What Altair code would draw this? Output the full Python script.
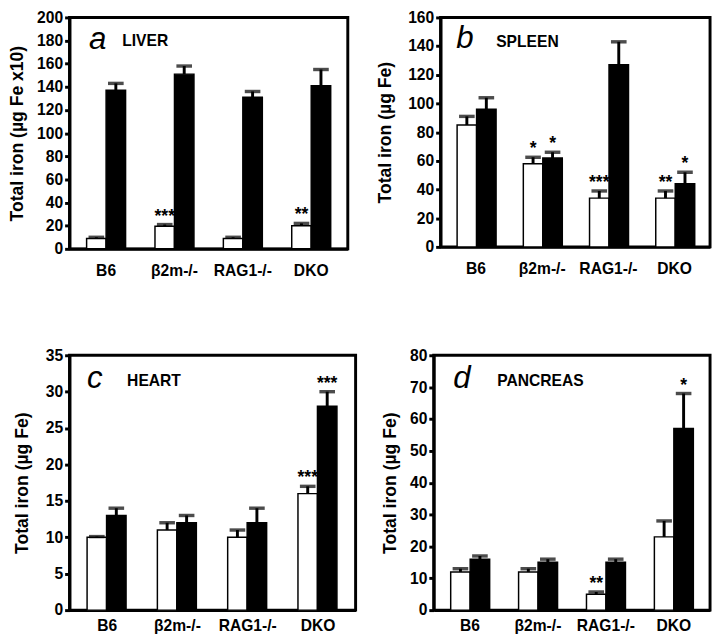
import altair as alt
import pandas as pd

groups = ["B6", "β2m-/-", "RAG1-/-", "DKO"]
series = ["w", "b"]

# a LIVER
liver_white = [9, 19.5, 9, 20]
liver_white_err = [1, 1.5, 1, 2]
liver_black = [137, 151, 131, 141]
liver_black_err = [6, 7, 5, 14]
liver_white_sig = ["", "***", "", "**"]
liver_black_sig = ["", "", "", ""]

# b SPLEEN
spleen_white = [85, 58, 34, 34]
spleen_white_err = [6, 4.5, 5, 5]
spleen_black = [96, 62, 127, 44]
spleen_black_err = [8, 4, 16, 8]
spleen_white_sig = ["", "*", "***", "**"]
spleen_black_sig = ["", "*", "", "*"]

# c HEART
heart_white = [10, 11, 10, 16]
heart_white_err = [0.1, 1, 1, 1]
heart_black = [13, 12, 12, 28]
heart_black_err = [1, 1, 2, 2]
heart_white_sig = ["", "", "", "***"]
heart_black_sig = ["", "", "", "***"]

# d PANCREAS
pancreas_white = [12, 12, 5, 23]
pancreas_white_err = [1, 1, 0.7, 5]
pancreas_black = [16, 15, 15, 57]
pancreas_black_err = [1, 1, 1, 11]
pancreas_white_sig = ["", "", "**", ""]
pancreas_black_sig = ["", "", "", "*"]

FONT = "Liberation Sans"


def panel(letter, name, ytitle, ymax, step, white, white_err, black, black_err,
          white_sig, black_sig, w, h, lx, ly, nx, ny, tpad, xlpad):
    rows = []
    for i, g in enumerate(groups):
        rows.append(dict(group=g, s="w", v=white[i], hi=white[i] + white_err[i], sig=white_sig[i]))
        rows.append(dict(group=g, s="b", v=black[i], hi=black[i] + black_err[i], sig=black_sig[i]))
    df = pd.DataFrame(rows)
    x = alt.X("group:N", sort=groups,
              scale=alt.Scale(paddingInner=0.43, paddingOuter=0.25),
              axis=alt.Axis(title=None, labelAngle=0, ticks=False, labelPadding=xlpad))
    xo = alt.XOffset("s:N", sort=series, scale=alt.Scale(paddingInner=0, paddingOuter=0))
    yscale = alt.Scale(domain=[0, ymax], nice=False)
    yaxis = alt.Axis(title=ytitle, values=list(range(0, ymax + 1, step)), titlePadding=tpad)
    base = alt.Chart(df)
    bars = base.mark_bar(stroke="black", strokeWidth=1.5).encode(
        x=x, xOffset=xo,
        y=alt.Y("v:Q", scale=yscale, axis=yaxis),
        color=alt.Color("s:N", scale=alt.Scale(domain=series, range=["white", "black"]), legend=None),
    )
    err = base.mark_rule(strokeWidth=3, color="black").encode(
        x=x, xOffset=xo,
        y=alt.Y("v:Q", scale=yscale, axis=yaxis), y2="hi:Q")
    cap = base.mark_tick(orient="horizontal", size=16, thickness=3.5, color="black").encode(
        x=x, xOffset=xo, y=alt.Y("hi:Q", scale=yscale, axis=yaxis))
    stars = base.mark_text(fontSize=18, fontWeight="bold", baseline="alphabetic", dy=-3,
                           font=FONT, color="black").encode(
        x=x, xOffset=xo, y=alt.Y("hi:Q", scale=yscale, axis=yaxis), text="sig:N")
    lab = pd.DataFrame({"t": [letter], "n": [name]})
    let = alt.Chart(lab).mark_text(fontSize=32, fontStyle="italic", align="left",
                                   baseline="alphabetic", font=FONT, color="black").encode(
        x=alt.value(lx), y=alt.value(ly), text="t:N")
    nm = alt.Chart(lab).mark_text(fontSize=16, fontWeight="bold", align="left",
                                  baseline="middle", font=FONT, color="black").encode(
        x=alt.value(nx), y=alt.value(ny), text="n:N")
    return alt.layer(bars, err, cap, stars, let, nm).properties(width=w, height=h)


pa = panel("a", "LIVER", "Total iron (µg Fe x10)", 200, 20,
           liver_white, liver_white_err, liver_black, liver_black_err,
           liver_white_sig, liver_black_sig, 285, 237, 20, 32, 54, 24, 10, 14)
pb = panel("b", "SPLEEN", "Total iron (µg Fe)", 160, 20,
           spleen_white, spleen_white_err, spleen_black, spleen_black_err,
           spleen_white_sig, spleen_black_sig, 276, 235, 16, 31, 57, 25, 14, 14)
pc = panel("c", "HEART", "Total iron (µg Fe)", 35, 5,
           heart_white, heart_white_err, heart_black, heart_black_err,
           heart_white_sig, heart_black_sig, 293, 261, 18, 33, 59, 26, 14, 8)
pd_ = panel("d", "PANCREAS", "Total iron (µg Fe)", 80, 10,
            pancreas_white, pancreas_white_err, pancreas_black, pancreas_black_err,
            pancreas_white_sig, pancreas_black_sig, 283, 261, 20, 34, 65, 26, 10, 8)

row1 = alt.hconcat(pa, pb, spacing=25)
row2 = alt.hconcat(pc, pd_, spacing=23)
chart = alt.vconcat(row1, row2, spacing=67).properties(
    padding={"top": -8, "left": -1, "right": 0, "bottom": 0}, background="white"
).configure_view(
    stroke="black", strokeWidth=3
).configure_axis(
    labelFont=FONT, titleFont=FONT, labelFontWeight="bold", titleFontWeight="bold",
    labelFontSize=16, titleFontSize=18, labelColor="black", titleColor="black",
    domainColor="black", domainWidth=3, tickColor="black", tickWidth=3, tickSize=5,
    grid=False, labelPadding=2
)

chart.save("out.html", embed_options={"renderer": "svg", "actions": False})
